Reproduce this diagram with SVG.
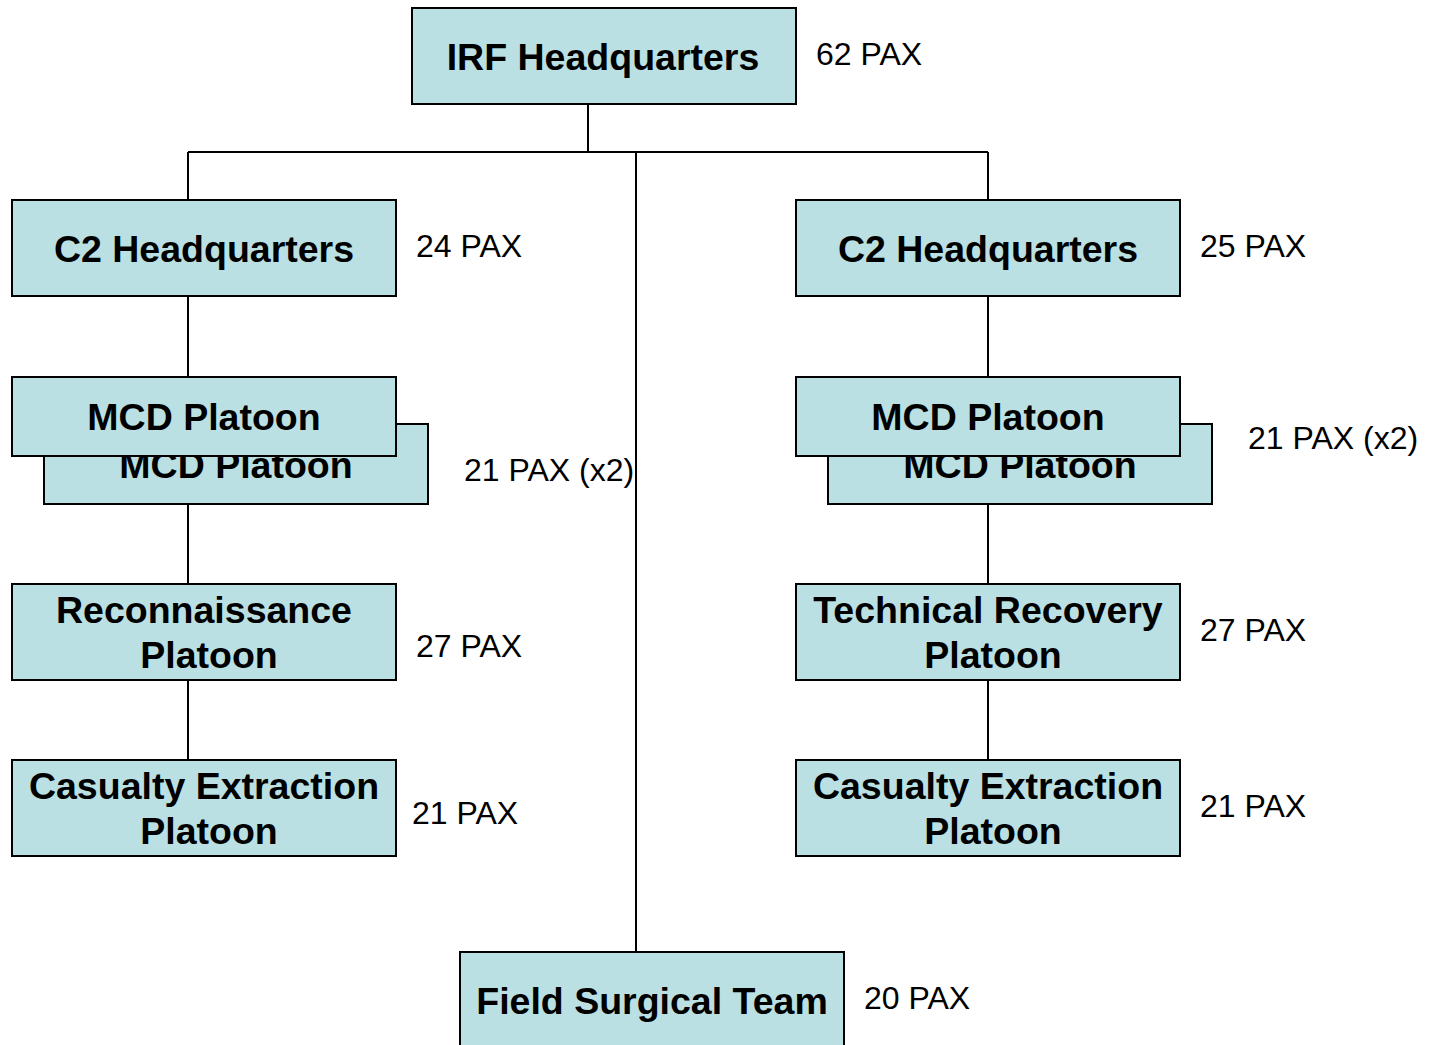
<svg xmlns="http://www.w3.org/2000/svg" width="1432" height="1045" viewBox="0 0 1432 1045">
<style>
.box{fill:#BAE0E3;stroke:#000;stroke-width:2}
.t{font-family:"Liberation Sans",Arial,sans-serif;font-weight:bold;font-size:37.5px;fill:#000;text-anchor:middle}
.p{font-family:"Liberation Sans",Arial,sans-serif;font-size:32px;fill:#000}
.c{stroke:#000;stroke-width:2;fill:none}
</style>
<rect width="1432" height="1045" fill="#fff"/>
<g id="connectors">
<path class="c" d="M588 104V152M188 152H988M188 152V200M988 152V200M636 152V952"/>
<path class="c" d="M188 296V377M188 504V584M188 680V760"/>
<path class="c" d="M988 296V377M988 504V584M988 680V760"/>
</g>
<g id="irf-hq"><rect class="box" x="412" y="8" width="384" height="96"/><text class="t" x="603" y="70">IRF Headquarters</text><text class="p" x="816" y="65">62 PAX</text></g>
<g id="c2-left"><rect class="box" x="12" y="200" width="384" height="96"/><text class="t" x="204" y="262">C2 Headquarters</text><text class="p" x="416" y="257">24 PAX</text></g>
<g id="c2-right"><rect class="box" x="796" y="200" width="384" height="96"/><text class="t" x="988" y="262">C2 Headquarters</text><text class="p" x="1200" y="257">25 PAX</text></g>
<g id="mcd-left-back"><rect class="box" x="44" y="424" width="384" height="80"/><text class="t" x="236" y="478">MCD Platoon</text></g>
<g id="mcd-left-front"><rect class="box" x="12" y="377" width="384" height="79"/><text class="t" x="204" y="430">MCD Platoon</text><text class="p" x="464" y="481">21 PAX (x2)</text></g>
<g id="mcd-right-back"><rect class="box" x="828" y="424" width="384" height="80"/><text class="t" x="1020" y="478">MCD Platoon</text></g>
<g id="mcd-right-front"><rect class="box" x="796" y="377" width="384" height="79"/><text class="t" x="988" y="430">MCD Platoon</text><text class="p" x="1248" y="449">21 PAX (x2)</text></g>
<g id="recon"><rect class="box" x="12" y="584" width="384" height="96"/><text class="t" x="204" y="623">Reconnaissance</text><text class="t" x="209" y="668">Platoon</text><text class="p" x="416" y="657">27 PAX</text></g>
<g id="tech-recovery"><rect class="box" x="796" y="584" width="384" height="96"/><text class="t" x="988" y="623">Technical Recovery</text><text class="t" x="993" y="668">Platoon</text><text class="p" x="1200" y="641">27 PAX</text></g>
<g id="cas-left"><rect class="box" x="12" y="760" width="384" height="96"/><text class="t" x="204" y="799">Casualty Extraction</text><text class="t" x="209" y="844">Platoon</text><text class="p" x="412" y="824">21 PAX</text></g>
<g id="cas-right"><rect class="box" x="796" y="760" width="384" height="96"/><text class="t" x="988" y="799">Casualty Extraction</text><text class="t" x="993" y="844">Platoon</text><text class="p" x="1200" y="817">21 PAX</text></g>
<g id="field-surgical"><rect class="box" x="460" y="952" width="384" height="110"/><text class="t" x="652" y="1014">Field Surgical Team</text><text class="p" x="864" y="1009">20 PAX</text></g>
</svg>
